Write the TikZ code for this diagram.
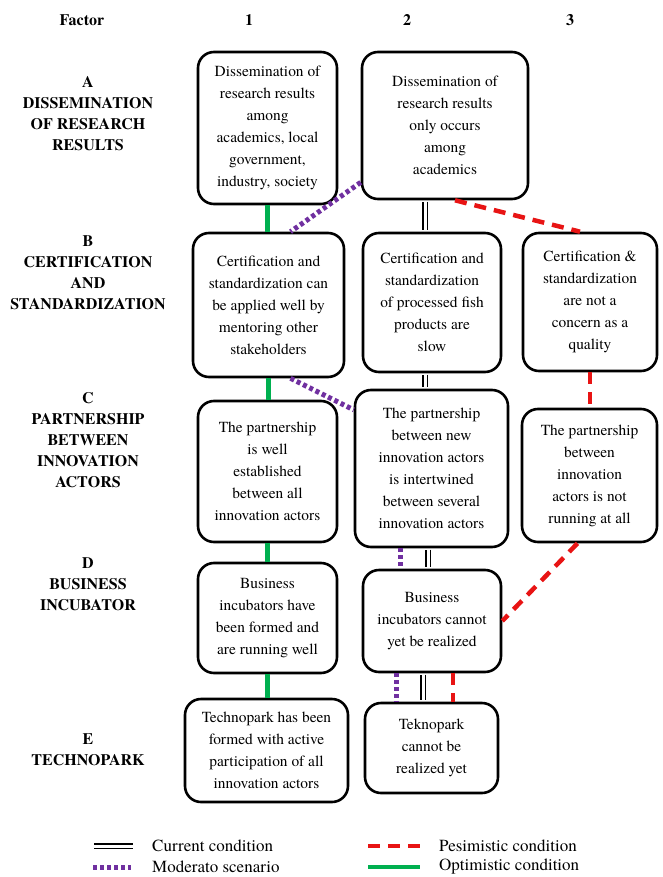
\documentclass[tikz,border=0pt]{standalone}
\usepackage{fontspec}
\setmainfont{texgyretermes}[Extension=.otf, UprightFont=*-regular, BoldFont=*-bold, ItalicFont=*-italic, BoldItalicFont=*-bolditalic]
\usetikzlibrary{calc}

\definecolor{moderato}{RGB}{112,48,160}
\definecolor{pesimis}{RGB}{232,20,20}
\definecolor{optimis}{RGB}{0,176,80}

\begin{document}
\begin{tikzpicture}[x=1pt,y=-1pt,
        box/.style={draw=black, line width=2.6pt, rounded corners=16pt, align=center, inner sep=0pt, font=\fontsize{15.4}{22}\selectfont},
        factor/.style={align=center, font=\fontsize{16}{21}\selectfont\bfseries},
        current/.style={draw=black, line width=1.6pt, double=white, double distance=3pt, shorten >=1.3pt, shorten <=1.3pt},
        moderate/.style={draw=moderato, line width=5pt, dash pattern=on 4pt off 3pt},
        pessimistic/.style={draw=pesimis, line width=4.5pt, dash pattern=on 12pt off 8pt},
        optimistic/.style={draw=optimis, line width=4.5pt},
        legend/.style={anchor=west, inner sep=0pt, font=\fontsize{17}{20}\selectfont}]

            \useasboundingbox (0,0) rectangle (663,877);

            \node[factor] (hf) at (82,20) {Factor};
            \node[factor] (h1) at (249,20) {1};
            \node[factor] (h2) at (407,20) {2};
            \node[factor] (h3) at (570,20) {3};

            \node[factor] (fa) at (88,114) {A\\DISSEMINATION\\OF RESEARCH\\RESULTS};
            \node[factor] (fb) at (88,273) {B\\CERTIFICATION\\AND\\STANDARDIZATION};
            \node[factor] (fc) at (88,440) {C\\PARTNERSHIP\\BETWEEN\\INNOVATION\\ACTORS};
            \node[factor] (fd) at (88,584) {D\\BUSINESS\\INCUBATOR};
            \node[factor] (fe) at (88,750) {E\\TECHNOPARK};

            \node[box, minimum width=139pt, minimum height=152pt] (a1) at (267.5,128) {Dissemination of\\research results\\among\\academics, local\\government,\\industry, society};
            \node[box, minimum width=166pt, minimum height=147pt] (a2) at (445,125.5) {Dissemination of\\research results\\only occurs\\among\\academics};

            \node[box, minimum width=151pt, minimum height=144pt] (b1) at (268.5,305) {Certification and\\standardization can\\be applied well by\\mentoring other\\stakeholders};
            \node[box, minimum width=138pt, minimum height=139pt] (b2) at (432,302.5) {Certification and\\standardization\\of processed fish\\products are\\slow};
            \node[box, minimum width=134pt, minimum height=138pt] (b3) at (590,302) {Certification \&\\standardization\\are not a\\concern as a\\quality};

            \node[box, minimum width=139pt, minimum height=141pt] (c1) at (267.5,471.5) {The partnership\\is well\\established\\between all\\innovation actors};
            \node[box, minimum width=153pt, minimum height=157pt] (c2) at (431.5,468.5) {The partnership\\between new\\innovation actors\\is intertwined\\between several\\innovation actors};
            \node[box, minimum width=135pt, minimum height=133pt] (c3) at (589.5,475.5) {The partnership\\between\\innovation\\actors is not\\running at all};

            \node[box, minimum width=139pt, minimum height=110pt] (d1) at (267.5,618) {Business\\incubators have\\been formed and\\are running well};
            \node[box, minimum width=138pt, minimum height=102pt] (d2) at (432,621) {Business\\incubators cannot\\yet be realized};

            \node[box, minimum width=163pt, minimum height=103pt] (e1) at (266.5,750.5) {Technopark has been\\formed with active\\participation of all\\innovation actors};
            \node[box, minimum width=133pt, minimum height=90pt] (e2) at (431.5,748) {Teknopark\\cannot be\\realized yet};

            \draw[optimistic] (a1.south) -- (a1.south |- b1.north);
            \draw[optimistic] (b1.south) -- (b1.south |- c1.north);
            \draw[optimistic] (c1.south) -- (d1.north);
            \draw[optimistic] (d1.south) -- (d1.south |- e1.north);

            \coordinate (cur1) at ($(b2.north)+(-7,0)$);
            \coordinate (cur2) at ($(b2.south)+(-7,0)$);
            \coordinate (cur3) at ($(d2.north)+(-4,0)$);
            \coordinate (cur4) at ($(d2.south)+(-9,0)$);
            \draw[current] (cur1 |- a2.south) -- (cur1);
            \draw[current] (cur2) -- (cur2 |- c2.north);
            \draw[current] (cur3 |- c2.south) -- (cur3);
            \draw[current] (cur4) -- (cur4 |- e2.north);

            \coordinate (mod3) at ($(d2.north)+(-32,0)$);
            \coordinate (mod4) at ($(d2.south)+(-36,0)$);
            \draw[moderate] (a2.214) -- ([xshift=22pt]b1.north);
            \draw[moderate] ([xshift=22pt]b1.south) -- (c2.143);
            \draw[moderate] (mod3 |- c2.south) -- (mod3);
            \draw[moderate] (mod4) -- (mod4 |- e2.north);

            \coordinate (pes4) at ($(d2.south)+(21,0)$);
            \draw[pessimistic] ([xshift=10pt]a2.south) -- ([xshift=-10pt]b3.north);
            \draw[pessimistic] (b3.south) -- (b3.south |- c3.north);
            \draw[pessimistic] ([xshift=-12pt]c3.south) -- (d2.east);
            \draw[pessimistic] (pes4) -- (pes4 |- e2.north);

            \node[legend] (lcur) at (152,846) {Current condition};
            \node[legend] (lmod) at (152,867) {Moderato scenario};
            \node[legend] (lpes) at (439,846) {Pesimistic condition};
            \node[legend] (lopt) at (439,867) {Optimistic condition};
            \draw[current] ($(lcur.west)+(-59,0)$) -- ($(lcur.west)+(-18,0)$);
            \draw[moderate] ($(lmod.west)+(-59,0)$) -- ($(lmod.west)+(-21,0)$);
            \draw[pessimistic] ($(lpes.west)+(-71,0)$) -- ($(lpes.west)+(-19,0)$);
            \draw[optimistic] ($(lopt.west)+(-71,0)$) -- ($(lopt.west)+(-19,0)$);

        \end{tikzpicture}
\end{document}
